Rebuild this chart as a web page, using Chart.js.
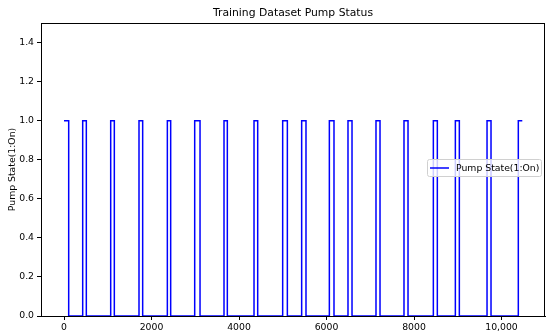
<!DOCTYPE html>
<html>
<head>
<meta charset="UTF-8">
<script src="https://cdn.jsdelivr.net/npm/chart.js@4/dist/chart.umd.min.js"></script>
<style>
  html, body { margin: 0; padding: 0; background: #fff; }
  #wrap { width: 550px; height: 334px; }
</style>
</head>
<body>
<div id="wrap"><canvas id="pumpChart" width="550" height="334"></canvas></div>
<script>
// Datos: índices donde la bomba cambia de estado (se mantiene hasta el siguiente)
const switchIdx = [0, 107, 427, 510, 1067, 1150, 1714, 1798, 2362, 2438, 2987, 3109,
  3657, 3733, 4343, 4427, 4998, 5105, 5432, 5531, 6065, 6171, 6491, 6583,
  7131, 7223, 7771, 7863, 8442, 8533, 8945, 9036, 9669, 9760, 10384, 10475];
const pumpState = [1, 0, 1, 0, 1, 0, 1, 0, 1, 0, 1, 0,
  1, 0, 1, 0, 1, 0, 1, 0, 1, 0, 1, 0,
  1, 0, 1, 0, 1, 0, 1, 0, 1, 0, 1, 1];
const xTicks = [0, 2000, 4000, 6000, 8000, 10000];
const yTicks = [0, 0.2, 0.4, 0.6, 0.8, 1.0, 1.2, 1.4];

const chartTitle = 'Training Dataset Pump Status';
const yLabel = 'Pump State(1:On)';
const seriesLabel = 'Pump State(1:On)';

const FONT = 'DejaVu Sans';
const SMALL = 9.3;

// Marco, título, etiqueta del eje y leyenda
const decorPlugin = {
  id: 'decor',
  afterDraw(chart) {
    const { ctx, chartArea: a } = chart;
    ctx.save();
    ctx.strokeStyle = '#000';
    ctx.lineWidth = 1;
    ctx.strokeRect(a.left + 0.5, a.top + 0.5, a.right - a.left - 1, a.bottom - a.top);

    ctx.fillStyle = '#000';
    ctx.font = '10.8px "' + FONT + '"';
    ctx.textAlign = 'center';
    ctx.textBaseline = 'middle';
    ctx.fillText(chartTitle, (a.left + a.right) / 2, 13);

    ctx.font = SMALL + 'px "' + FONT + '"';
    ctx.translate(12.5, (a.top + a.bottom) / 2);
    ctx.rotate(-Math.PI / 2);
    ctx.fillText(yLabel, 0, 0);
    ctx.restore();

    // Leyenda
    ctx.save();
    const bx = 427, by = 159, bw = 114, bh = 17;
    ctx.fillStyle = 'rgba(255,255,255,0.8)';
    ctx.strokeStyle = '#d0d0d0';
    ctx.lineWidth = 1;
    ctx.beginPath();
    ctx.roundRect(bx + 0.5, by + 0.5, bw, bh, 2);
    ctx.fill();
    ctx.stroke();
    ctx.strokeStyle = '#0000ff';
    ctx.lineWidth = 1.5;
    ctx.beginPath();
    ctx.moveTo(bx + 3, by + 9);
    ctx.lineTo(bx + 22, by + 9);
    ctx.stroke();
    ctx.fillStyle = '#000';
    ctx.font = SMALL + 'px "' + FONT + '"';
    ctx.textAlign = 'left';
    ctx.textBaseline = 'middle';
    ctx.fillText(seriesLabel, bx + 29, by + 9.5);
    ctx.restore();
  }
};

const points = switchIdx.map((x, i) => ({ x: x, y: pumpState[i] }));

new Chart(document.getElementById('pumpChart'), {
  type: 'line',
  data: {
    datasets: [{
      label: seriesLabel,
      data: points,
      stepped: 'before',
      borderColor: '#0000ff',
      borderWidth: 1.5,
      pointRadius: 0,
      fill: false
    }]
  },
  options: {
    responsive: false,
    animation: false,
    layout: { padding: { top: 23, right: 5, left: 0, bottom: 0 } },
    plugins: {
      legend: { display: false },
      title: { display: false },
      tooltip: { enabled: false }
    },
    scales: {
      x: {
        type: 'linear',
        min: -526,
        max: 10994,
        afterBuildTicks: s => { s.ticks = xTicks.map(v => ({ value: v })); },
        afterFit: s => { s.height = 18; },
        grid: { display: true, drawOnChartArea: false, drawTicks: true, tickLength: 4, color: '#000' },
        border: { display: true, color: '#000' },
        ticks: {
          color: '#000',
          padding: 2,
          maxRotation: 0,
          font: { family: FONT, size: SMALL },
          callback: v => v >= 10000 ? v.toLocaleString('en-US') : String(v)
        }
      },
      y: {
        min: 0,
        max: 1.5,
        afterBuildTicks: s => { s.ticks = yTicks.map(v => ({ value: v })); },
        afterFit: s => { s.width = 41; },
        grid: { display: true, drawOnChartArea: false, drawTicks: true, tickLength: 4, color: '#000' },
        border: { display: true, color: '#000' },
        ticks: {
          color: '#000',
          padding: 3,
          font: { family: FONT, size: SMALL },
          callback: v => v.toFixed(1)
        }
      }
    }
  },
  plugins: [decorPlugin]
});
</script>
</body>
</html>
